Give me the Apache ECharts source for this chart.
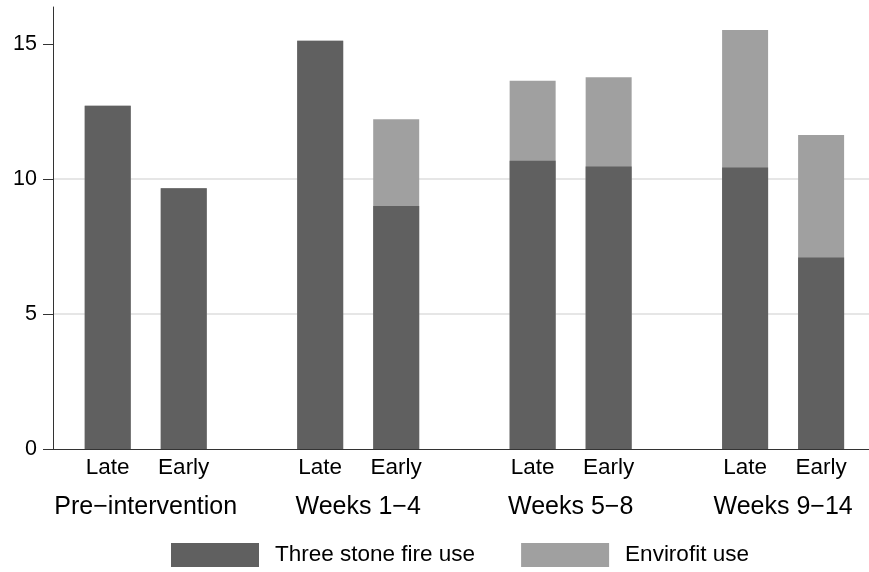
<!DOCTYPE html>
<html>
<head>
<meta charset="utf-8">
<script src="https://cdn.jsdelivr.net/npm/echarts@6/dist/echarts.min.js"></script>
<style>
html, body { margin: 0; padding: 0; background: #fff; }
#chart { width: 869px; height: 572px; }
</style>
</head>
<body>
<div id="chart"></div>
<script>
// data
var periods = ['Pre\u2212intervention', 'Weeks 1\u22124', 'Weeks 5\u22128', 'Weeks 9\u221214'];
var timing = ['Late', 'Early'];
var threeStone = [12.71, 9.66, 15.12, 9.00, 10.68, 10.46, 10.43, 7.09];
var envirofit = [0, 0, 0, 3.21, 2.96, 3.31, 5.09, 4.54];
var yTicks = [0, 5, 10, 15];

// layout: bars inside a group are one unit apart, groups a bit further
var groupPitch = 2.795;
var xMin = -0.72;
var xMax = 10.015;

function barPos(i) {
    return Math.floor(i / 2) * groupPitch + (i % 2);
}

var barPositions = threeStone.map(function(v, i) { return barPos(i); });
var groupPositions = periods.map(function(p, g) { return g * groupPitch + 0.5; });

// stack by hand: envirofit sits on top of three stone fire
var totals = threeStone.map(function(v, i) { return v + envirofit[i]; });

function labelAt(positions, labels) {
    return function(value) {
        for (var i = 0; i < positions.length; i++) {
            if (Math.abs(positions[i] - value) < 1e-6) return labels(i);
        }
        return '';
    };
}

var font = 'Liberation Sans';
var chart = echarts.init(document.getElementById('chart'));

var option = {
    animation: false,
    backgroundColor: '#fff',
    grid: { left: 53, right: 0, top: 7, bottom: 123 },
    legend: {
        left: 166,
        top: 538,
        icon: 'rect',
        itemWidth: 88,
        itemHeight: 24,
        itemGap: 46,
        data: ['Three stone fire use', 'Envirofit use'],
        textStyle: {
            fontFamily: font,
            fontSize: 22.5,
            color: '#000',
            padding: [0, 0, 0, 11]
        }
    },
    xAxis: [{
        type: 'value',
        min: xMin,
        max: xMax,
        splitLine: { show: false },
        axisTick: { show: false },
        axisLine: { show: true, lineStyle: { color: '#333', width: 1 } },
        axisLabel: {
            customValues: barPositions,
            formatter: labelAt(barPositions, function(i) { return timing[i % 2]; }),
            margin: 7,
            fontFamily: font,
            fontSize: 22.5,
            color: '#000'
        }
    }, {
        type: 'value',
        position: 'bottom',
        min: xMin,
        max: xMax,
        splitLine: { show: false },
        axisTick: { show: false },
        axisLine: { show: false },
        axisLabel: {
            customValues: groupPositions,
            formatter: labelAt(groupPositions, function(i) { return periods[i]; }),
            margin: 46,
            fontFamily: font,
            fontSize: 25,
            color: '#000'
        }
    }],
    yAxis: {
        type: 'value',
        min: 0,
        max: 16.37,
        interval: 5,
        axisLine: { show: true, onZero: false, lineStyle: { color: '#333', width: 1 } },
        axisTick: { show: true, length: 10, customValues: yTicks, lineStyle: { color: '#333' } },
        axisLabel: {
            customValues: yTicks,
            margin: 16,
            fontFamily: font,
            fontSize: 21.5,
            color: '#000'
        },
        splitLine: {
            show: true,
            showMinLine: false,
            showMaxLine: false,
            lineStyle: { color: '#dedede', width: 1.5 }
        }
    },
    series: [{
        name: 'Three stone fire use',
        type: 'bar',
        barWidth: 46,
        barGap: '-100%',
        z: 3,
        itemStyle: { color: '#606060' },
        data: threeStone.map(function(v, i) { return [barPos(i), v]; })
    }, {
        name: 'Envirofit use',
        type: 'bar',
        barWidth: 46,
        barGap: '-100%',
        z: 2,
        itemStyle: { color: '#a0a0a0' },
        data: totals.map(function(v, i) { return [barPos(i), v]; })
    }]
};

chart.setOption(option);
</script>
</body>
</html>
